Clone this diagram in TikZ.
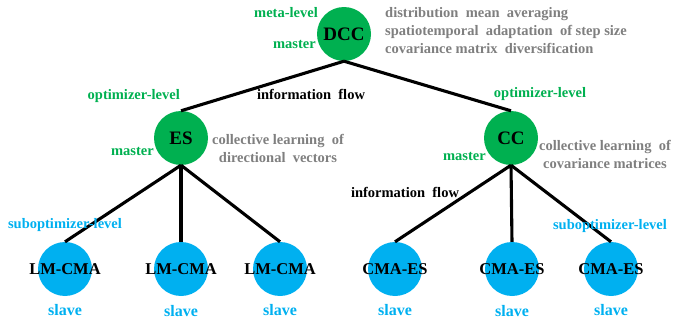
\documentclass[tikz,border=0pt]{standalone}
\usepackage{fontspec}
\setmainfont{Liberation Serif}
\definecolor{mastergreen}{RGB}{0,176,80}
\definecolor{slaveblue}{RGB}{0,176,240}
\definecolor{notegray}{RGB}{127,127,127}
\tikzset{
  topnode/.style={circle, fill=mastergreen, minimum size=54pt, inner sep=0pt,
    font=\bfseries\fontsize{19}{22}\selectfont},
  subnode/.style={circle, fill=slaveblue, minimum size=54pt, inner sep=0pt,
    font=\bfseries\fontsize{16.5}{19}\selectfont},
  greenlbl/.style={text=mastergreen, inner sep=0pt, font=\bfseries\fontsize{14.5}{17}\selectfont},
  bluelbl/.style={text=slaveblue, inner sep=0pt, font=\bfseries\fontsize{14.5}{17}\selectfont},
  slavelbl/.style={text=slaveblue, inner sep=0pt, font=\bfseries\fontsize{16}{19}\selectfont},
  notelbl/.style={text=notegray, inner sep=0pt, font=\bfseries\fontsize{14.5}{18}\selectfont},
  flowlbl/.style={inner sep=0pt, font=\bfseries\fontsize{14.5}{17}\selectfont},
  link/.style={draw, line width=3.1pt}
}
\begin{document}
\begin{tikzpicture}[x=1pt,y=-1pt]
\useasboundingbox (0,0) rectangle (673,324);
\node[topnode] (dcc) at (344,34) {DCC};
\node[topnode] (es) at (181,138) {ES};
\node[topnode] (cc) at (511,138) {CC};
\node[subnode] (lm1) at (65,269) {\makebox[0pt]{LM-CMA}};
\node[subnode] (lm2) at (181,269) {\makebox[0pt]{LM-CMA}};
\node[subnode] (lm3) at (280,269) {\makebox[0pt]{LM-CMA}};
\node[subnode] (cma1) at (395,269) {\makebox[0pt]{CMA-ES}};
\node[subnode] (cma2) at (512,269) {\makebox[0pt]{CMA-ES}};
\node[subnode] (cma3) at (611,269) {\makebox[0pt]{CMA-ES}};
\path[link] (dcc.south) -- (es.north);
\path[link] (dcc.south) -- (cc.north);
\path[link] (es.south) -- (lm1.north);
\path[link] (es.south) -- (lm2.north);
\path[link] (es.south) -- (lm3.north);
\path[link] (cc.south) -- (cma1.north);
\path[link] (cc.south) -- (cma2.north);
\path[link] (cc.south) -- (cma3.north);
% level and role labels
\node[greenlbl, anchor=east] (metalvl) at (318,13) {meta-level};
\node[greenlbl, anchor=east] (dccrole) at (316,44) {master};
\node[greenlbl, anchor=east] (optlvlA) at (180,96) {optimizer-level};
\node[greenlbl, anchor=east] (esrole) at (154,151) {master};
\node[greenlbl] (optlvlB) at (540,94) {optimizer-level};
\node[greenlbl, anchor=east] (ccrole) at (486,156) {master};
\node[bluelbl] (sublvlA) at (65,225) {suboptimizer-level};
\node[bluelbl] (sublvlB) at (610,226) {suboptimizer-level};
\node[slavelbl] (role1) at (65,310) {slave};
\node[slavelbl] (role2) at (181,311) {slave};
\node[slavelbl] (role3) at (280,310) {slave};
\node[slavelbl] (role4) at (395,310) {slave};
\node[slavelbl] (role5) at (512,311) {slave};
\node[slavelbl] (role6) at (611,310) {slave};
% information flow
\node[flowlbl] (flowA) at (311,94) {information\ \ flow};
\node[flowlbl] (flowB) at (405,192) {information\ \ flow};
% notes
\node[notelbl, anchor=west, align=left] (dccnote) at (385,31)
  {distribution\ \ mean\ \ averaging\\spatiotemporal\ \ adaptation\ \ of step size\\covariance matrix\ \ diversification};
\node[notelbl, align=center] (esnote) at (278,148) {collective learning\ \ of\\directional\ \ vectors};
\node[notelbl, align=center] (ccnote) at (605,154) {collective learning\ \ of\\covariance matrices};
\end{tikzpicture}
\end{document}
